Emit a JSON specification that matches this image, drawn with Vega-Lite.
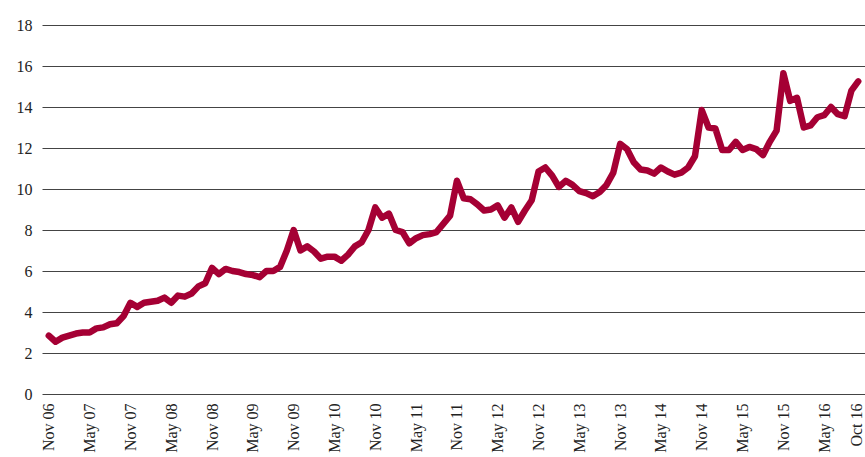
{
  "$schema": "https://vega.github.io/schema/vega-lite/v6.json",
  "width": 823,
  "height": 369,
  "autosize": {"type": "none"},
  "padding": {"left": 42, "top": 25, "right": 0, "bottom": 63},
  "background": "white",
  "config": {"view": {"stroke": null}},
  "data": {"values": [
    {"m":"Nov 06","v":2.85},{"m":"Dec 06","v":2.55},{"m":"Jan 07","v":2.75},{"m":"Feb 07","v":2.85},{"m":"Mar 07","v":2.95},{"m":"Apr 07","v":3.0},
    {"m":"May 07","v":3.0},{"m":"Jun 07","v":3.2},{"m":"Jul 07","v":3.25},{"m":"Aug 07","v":3.4},{"m":"Sep 07","v":3.45},{"m":"Oct 07","v":3.8},
    {"m":"Nov 07","v":4.45},{"m":"Dec 07","v":4.25},{"m":"Jan 08","v":4.45},{"m":"Feb 08","v":4.5},{"m":"Mar 08","v":4.55},{"m":"Apr 08","v":4.7},
    {"m":"May 08","v":4.45},{"m":"Jun 08","v":4.8},{"m":"Jul 08","v":4.75},{"m":"Aug 08","v":4.9},{"m":"Sep 08","v":5.25},{"m":"Oct 08","v":5.4},
    {"m":"Nov 08","v":6.15},{"m":"Dec 08","v":5.85},{"m":"Jan 09","v":6.1},{"m":"Feb 09","v":6.0},{"m":"Mar 09","v":5.95},{"m":"Apr 09","v":5.85},
    {"m":"May 09","v":5.8},{"m":"Jun 09","v":5.7},{"m":"Jul 09","v":6.0},{"m":"Aug 09","v":6.0},{"m":"Sep 09","v":6.2},{"m":"Oct 09","v":7.0},
    {"m":"Nov 09","v":8.0},{"m":"Dec 09","v":7.0},{"m":"Jan 10","v":7.2},{"m":"Feb 10","v":6.95},{"m":"Mar 10","v":6.6},{"m":"Apr 10","v":6.7},
    {"m":"May 10","v":6.7},{"m":"Jun 10","v":6.5},{"m":"Jul 10","v":6.8},{"m":"Aug 10","v":7.2},{"m":"Sep 10","v":7.4},{"m":"Oct 10","v":8.0},
    {"m":"Nov 10","v":9.1},{"m":"Dec 10","v":8.6},{"m":"Jan 11","v":8.8},{"m":"Feb 11","v":8.0},{"m":"Mar 11","v":7.9},{"m":"Apr 11","v":7.35},
    {"m":"May 11","v":7.6},{"m":"Jun 11","v":7.75},{"m":"Jul 11","v":7.8},{"m":"Aug 11","v":7.9},{"m":"Sep 11","v":8.3},{"m":"Oct 11","v":8.7},
    {"m":"Nov 11","v":10.4},{"m":"Dec 11","v":9.55},{"m":"Jan 12","v":9.5},{"m":"Feb 12","v":9.25},{"m":"Mar 12","v":8.95},{"m":"Apr 12","v":9.0},
    {"m":"May 12","v":9.2},{"m":"Jun 12","v":8.6},{"m":"Jul 12","v":9.1},{"m":"Aug 12","v":8.4},{"m":"Sep 12","v":8.95},{"m":"Oct 12","v":9.45},
    {"m":"Nov 12","v":10.85},{"m":"Dec 12","v":11.05},{"m":"Jan 13","v":10.65},{"m":"Feb 13","v":10.1},{"m":"Mar 13","v":10.4},{"m":"Apr 13","v":10.2},
    {"m":"May 13","v":9.9},{"m":"Jun 13","v":9.8},{"m":"Jul 13","v":9.65},{"m":"Aug 13","v":9.85},{"m":"Sep 13","v":10.2},{"m":"Oct 13","v":10.8},
    {"m":"Nov 13","v":12.2},{"m":"Dec 13","v":11.95},{"m":"Jan 14","v":11.3},{"m":"Feb 14","v":10.95},{"m":"Mar 14","v":10.9},{"m":"Apr 14","v":10.75},
    {"m":"May 14","v":11.05},{"m":"Jun 14","v":10.85},{"m":"Jul 14","v":10.7},{"m":"Aug 14","v":10.8},{"m":"Sep 14","v":11.05},{"m":"Oct 14","v":11.6},
    {"m":"Nov 14","v":13.85},{"m":"Dec 14","v":13.0},{"m":"Jan 15","v":12.95},{"m":"Feb 15","v":11.9},{"m":"Mar 15","v":11.9},{"m":"Apr 15","v":12.3},
    {"m":"May 15","v":11.9},{"m":"Jun 15","v":12.05},{"m":"Jul 15","v":11.95},{"m":"Aug 15","v":11.65},{"m":"Sep 15","v":12.3},{"m":"Oct 15","v":12.85},
    {"m":"Nov 15","v":15.65},{"m":"Dec 15","v":14.3},{"m":"Jan 16","v":14.45},{"m":"Feb 16","v":13.0},{"m":"Mar 16","v":13.1},{"m":"Apr 16","v":13.5},
    {"m":"May 16","v":13.6},{"m":"Jun 16","v":14.0},{"m":"Jul 16","v":13.65},{"m":"Aug 16","v":13.55},{"m":"Sep 16","v":14.8},{"m":"Oct 16","v":15.25}
  ]},
  "mark": {"type": "line", "color": "#A50034", "strokeWidth": 6.5, "strokeJoin": "round", "strokeCap": "round"},
  "encoding": {
    "x": {
      "field": "m", "type": "ordinal", "sort": null,
      "scale": {"type": "point", "padding": 1},
      "axis": {
        "title": null, "domain": false, "ticks": false, "grid": false,
        "values": ["Nov 06","May 07","Nov 07","May 08","Nov 08","May 09","Nov 09","May 10","Nov 10","May 11","Nov 11","May 12","Nov 12","May 13","Nov 13","May 14","Nov 14","May 15","Nov 15","May 16","Oct 16"],
        "labelAngle": 270, "labelPadding": 9,
        "labelOffset": {"condition": {"test": "datum.value === 'Oct 16'", "value": -2}, "value": 0},
        "labelFont": "Liberation Serif", "labelFontSize": 16, "labelColor": "#222"
      }
    },
    "y": {
      "field": "v", "type": "quantitative",
      "scale": {"domain": [0, 18], "nice": false, "zero": true},
      "axis": {
        "title": null, "domain": false, "ticks": false,
        "values": [0,2,4,6,8,10,12,14,16,18],
        "grid": true, "gridColor": "#444", "gridWidth": 1, "gridOpacity": 1,
        "labelPadding": 10, "labelFont": "Liberation Serif", "labelFontSize": 16, "labelColor": "#222"
      }
    }
  }
}
